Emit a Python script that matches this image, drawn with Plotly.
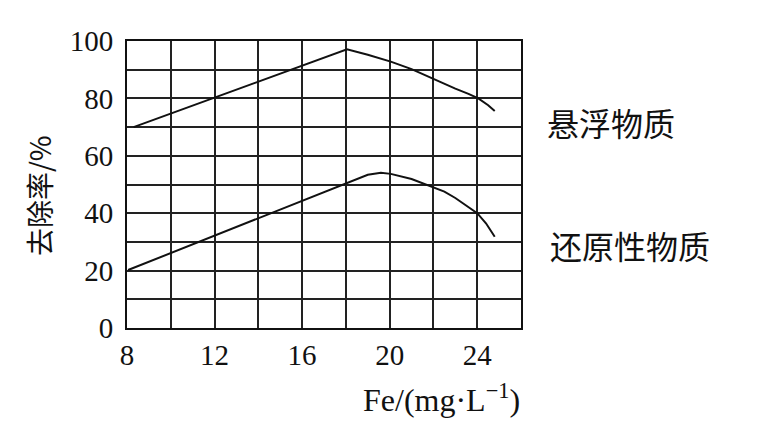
import plotly.graph_objects as go

# Data
x_susp = [8.3, 18.05, 19.0, 20.05, 21.0, 22.05, 23.0, 23.6, 24.05, 24.5, 24.8]
y_susp = [70.0, 97.1, 95.2, 92.8, 90.2, 86.6, 83.4, 81.6, 80.0, 77.6, 75.6]

x_red = [8.05, 18.05, 18.5, 19.0, 19.6, 20.05, 21.0, 21.75, 22.5, 23.0, 23.5, 24.0, 24.4, 24.8]
y_red = [20.2, 50.4, 52.0, 53.4, 54.1, 53.7, 51.9, 49.8, 47.5, 45.3, 42.8, 40.0, 36.5, 31.8]

x_grid = [8, 10, 12, 14, 16, 18, 20, 22, 24, 26]
x_labels = ["8", "", "12", "", "16", "", "20", "", "24", ""]
y_grid = [0, 10, 20, 30, 40, 50, 60, 70, 80, 90, 100]
y_labels = ["0", "", "20", "", "40", "", "60", "", "80", "", "100"]

series_names = ["悬浮物质", "还原性物质"]
x_title = "Fe/(mg·L<sup>−1</sup>)"
y_title = "去除率/%"

serif = "Liberation Serif"
cjk = "Noto Sans CJK SC"

fig = go.Figure()
fig.add_trace(go.Scatter(x=x_susp, y=y_susp, mode="lines",
                         line=dict(color="#111", width=2), name=series_names[0]))
fig.add_trace(go.Scatter(x=x_red, y=y_red, mode="lines",
                         line=dict(color="#111", width=2), name=series_names[1]))

# page body adds an 8px offset at left/top; compensate in size and margins
fig.update_layout(
    width=754, height=424,
    margin=dict(l=119, r=241, t=33, b=104, autoexpand=False),
    paper_bgcolor="white", plot_bgcolor="white",
    showlegend=False,
    font=dict(family=serif, size=29, color="#111"),
)
fig.update_xaxes(
    range=[8, 26], tickmode="array", tickvals=x_grid, ticktext=x_labels,
    showgrid=True, gridcolor="#222", gridwidth=2,
    showline=True, linecolor="#111", linewidth=2, mirror=True,
    ticks="", zeroline=False, ticklabelstandoff=0, automargin=False,
    tickfont=dict(family=serif, size=29, color="#111"),
)
fig.update_yaxes(
    range=[0, 100], tickmode="array", tickvals=y_grid, ticktext=y_labels,
    showgrid=True, gridcolor="#222", gridwidth=2,
    showline=True, linecolor="#111", linewidth=2, mirror=True,
    ticks="", zeroline=False, ticklabelstandoff=6, automargin=False,
    tickfont=dict(family=serif, size=29, color="#111"),
)

common = dict(xref="paper", yref="paper", showarrow=False, xanchor="center", yanchor="middle")
fig.add_annotation(text=x_title, x=0.799, y=-0.244,
                   font=dict(family=serif, size=32, color="#111"), **common)
fig.add_annotation(text=y_title, x=-0.223, y=0.46, textangle=-90,
                   font=dict(family=cjk, size=28, color="#111"), **common)
fig.add_annotation(text=series_names[0], x=1.228, y=0.718,
                   font=dict(family=cjk, size=32, color="#111"), **common)
fig.add_annotation(text=series_names[1], x=1.277, y=0.289,
                   font=dict(family=cjk, size=32, color="#111"), **common)

fig.write_html("out.html")
